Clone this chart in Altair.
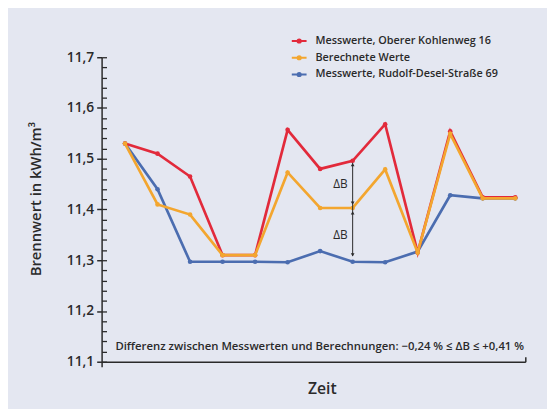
import altair as alt
import pandas as pd

# ---- data ----
zeit = list(range(13))
red = [11.53, 11.51, 11.465, 11.31, 11.31, 11.557, 11.48, 11.496, 11.568, 11.315, 11.554, 11.424, 11.424]
orange = [11.53, 11.41, 11.39, 11.31, 11.31, 11.473, 11.403, 11.403, 11.479, 11.315, 11.549, 11.422, 11.422]
blue = [11.53, 11.44, 11.297, 11.297, 11.297, 11.296, 11.318, 11.297, 11.296, 11.317, 11.428, 11.422, 11.422]

series = ["Messwerte, Oberer Kohlenweg 16", "Berechnete Werte", "Messwerte, Rudolf-Desel-Straße 69"]
colors = ["#e22a3b", "#f3a62f", "#4b6db0"]

y_major = [11.1, 11.2, 11.3, 11.4, 11.5, 11.6, 11.7]
y_minor = [11.1, 11.12, 11.14, 11.16, 11.18, 11.2, 11.22, 11.24, 11.26, 11.28, 11.3,
           11.32, 11.34, 11.36, 11.38, 11.4, 11.42, 11.44, 11.46, 11.48, 11.5,
           11.52, 11.54, 11.56, 11.58, 11.6, 11.62, 11.64, 11.66, 11.68, 11.7]

y_title = "Brennwert in kWh/m³"
x_title = "Zeit"
note = "Differenz zwischen Messwerten und Berechnungen:  \u22120,24 % \u2264 \u0394B \u2264  +0,41 %"
delta_label = "\u0394B"
ann_index = 7

X_DOM = [-0.72, 12.31]
Y_DOM = [11.1, 11.7]

FONT = "Open Sans"
DARK = "#2a2a2a"
BG = "#e4e7f1"

rows = []
for name, vals in zip(series, [red, orange, blue]):
    for t, v in zip(zeit, vals):
        rows.append({"zeit": t, "wert": v, "reihe": name})
df = pd.DataFrame(rows)

xs = alt.Scale(domain=X_DOM, nice=False, zero=False)
ys = alt.Scale(domain=Y_DOM, nice=False, zero=False)

legend = alt.Legend(
    title=None, orient="none", legendX=192, legendY=-25, padding=0,
    symbolType="M-1,0L1,0M-0.22,0A0.22,0.22,0,1,0,0.22,0A0.22,0.22,0,1,0,-0.22,0Z",
    symbolSize=225, symbolStrokeWidth=2, labelOffset=8, rowPadding=2, labelLimit=400,
    labelFont=FONT, labelFontSize=11, labelFontWeight=600, labelColor=DARK,
)
color = alt.Color("reihe:N", scale=alt.Scale(domain=series, range=colors), legend=legend)

axis_x = alt.Axis(orient="bottom", values=[X_DOM[0]], tickSize=5, labels=False, title=None,
                  grid=False, domainColor=DARK, domainWidth=1.5, tickColor=DARK, tickWidth=1.5)
axis_y = alt.Axis(orient="left", values=y_major, tickSize=5, title=None, grid=False,
                  labelExpr="replace(format(datum.value, '.1f'), '.', ',')",
                  labelFont=FONT, labelFontSize=14, labelFontWeight=600, labelColor=DARK,
                  labelPadding=3, domainColor=DARK, domainWidth=1.5, tickColor=DARK, tickWidth=1.5)


def series_layer(name, first):
    return alt.Chart(df).transform_filter(alt.datum.reihe == name).mark_line(
        strokeWidth=2.7,
        point=alt.OverlayMarkDef(filled=True, size=22),
    ).encode(
        x=alt.X("zeit:Q", scale=xs, axis=axis_x if first else None),
        y=alt.Y("wert:Q", scale=ys, axis=axis_y if first else None),
        color=color,
    )


layers = [series_layer(series[2], True), series_layer(series[0], False), series_layer(series[1], False)]

# extra axis layer: minor ticks pointing right, right-end tick of x axis
axis_layer = alt.Chart(df).mark_point(opacity=0).encode(
    x=alt.X("zeit:Q", scale=xs,
            axis=alt.Axis(orient="top", offset=-309, values=[X_DOM[1]], tickSize=5, labels=False,
                          domain=False, title=None, grid=False, tickColor=DARK, tickWidth=1.5)),
    y=alt.Y("wert:Q", scale=ys,
            axis=alt.Axis(orient="right", offset=-430, values=y_minor, tickSize=5, labels=False,
                          domain=False, title=None, grid=False, tickColor=DARK, tickWidth=1.3)),
)

# ΔB annotation
i = ann_index
ann = pd.DataFrame({"zeit": [zeit[i]], "oben": [red[i]], "mitte": [orange[i]], "unten": [blue[i]]})
ann_base = alt.Chart(ann)
xa = alt.X("zeit:Q", scale=xs, axis=None)
rule = ann_base.mark_rule(color=DARK, strokeWidth=1, yOffset=2, y2Offset=-6).encode(
    x=xa, y=alt.Y("oben:Q", scale=ys, axis=None), y2="unten:Q")
arrows = [
    ann_base.mark_point(shape="triangle-up", filled=True, size=14, color=DARK, opacity=1, yOffset=4).encode(
        x=xa, y=alt.Y("oben:Q", scale=ys, axis=None)),
    ann_base.mark_point(shape="triangle-down", filled=True, size=14, color=DARK, opacity=1, yOffset=-5).encode(
        x=xa, y=alt.Y("mitte:Q", scale=ys, axis=None)),
    ann_base.mark_point(shape="triangle-up", filled=True, size=14, color=DARK, opacity=1, yOffset=5).encode(
        x=xa, y=alt.Y("mitte:Q", scale=ys, axis=None)),
    ann_base.mark_point(shape="triangle-down", filled=True, size=14, color=DARK, opacity=1, yOffset=-7).encode(
        x=xa, y=alt.Y("unten:Q", scale=ys, axis=None)),
]
dlabels = ann_base.transform_calculate(
    m1="(datum.oben + datum.mitte) / 2", m2="(datum.mitte + datum.unten) / 2"
).transform_fold(["m1", "m2"], as_=["k", "m"]).mark_text(
    align="right", baseline="middle", dx=-5, font=FONT, fontSize=12, color=DARK
).encode(x=xa, y=alt.Y("m:Q", scale=ys, axis=None), text=alt.value(delta_label))

# texts
tdf = pd.DataFrame({"yt": [y_title], "xt": [x_title], "nt": [note]})
ytitle = alt.Chart(tdf).mark_text(angle=270, align="center", baseline="middle", font=FONT,
                                  fontSize=15, fontWeight=600, color=DARK).encode(
    x=alt.value(-67), y=alt.value(144), text="yt:N")
xtitle = alt.Chart(tdf).mark_text(align="center", baseline="middle", font=FONT,
                                  fontSize=16, fontWeight=600, color=DARK).encode(
    x=alt.value(224), y=alt.value(337), text="xt:N")
ntext = alt.Chart(tdf).mark_text(align="left", baseline="middle", font=FONT,
                                 fontSize=11.5, fontWeight=600, color=DARK).encode(
    x=alt.value(14), y=alt.value(294), text="nt:N")

chart = alt.layer(
    *layers, axis_layer, rule, *arrows, dlabels, ytitle, xtitle, ntext
).resolve_axis(x="independent", y="independent").properties(
    width=430, height=309,
    padding={"left": 95, "top": 47, "right": 22, "bottom": 45},
    autosize=alt.AutoSizeParams(type="none"),
    background=BG,
).configure_view(stroke=None)

chart.save("out.html", embed_options={"renderer": "svg", "actions": False})
